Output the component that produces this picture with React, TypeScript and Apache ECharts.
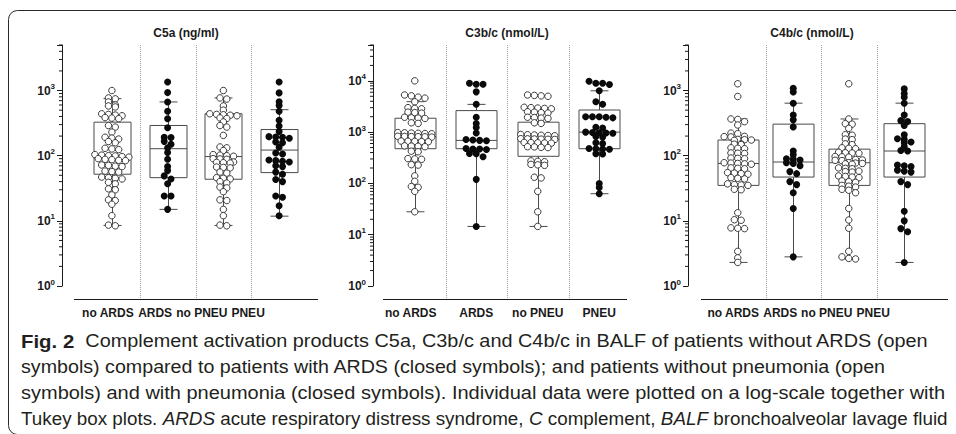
import { useEffect, useRef } from 'react';
import * as echarts from 'echarts';

// ---------------- data ----------------
const categories = ['no ARDS', 'ARDS', 'no PNEU', 'PNEU'];
const groupIsOpen = [true, false, true, false];
const panelTitles = ['C5a (ng/ml)', 'C3b/c (nmol/L)', 'C4b/c (nmol/L)'];
const yAxisMin = 1;
const yAxisMax = [5000, 50000, 5000];

// C5a (ng/ml)
const c5aNoArds = [1000, 770, 745, 668, 600, 580, 560, 440, 430, 420, 410, 385, 378, 370, 290, 275, 230, 192, 186, 180, 165, 158, 130, 127, 124, 104, 102, 100, 99, 97, 95, 90, 88, 87, 85, 84, 72, 71, 69, 68, 58, 57, 56, 47, 46, 45, 44, 39, 37, 31, 30, 25, 21, 20.5, 18, 12, 8.6, 8.4];
const c5aArds = [1350, 930, 668, 480, 370, 268, 192, 190, 166, 150, 132, 112, 88, 68, 59, 49, 44, 37, 24, 24, 15];
const c5aNoPneu = [1000, 770, 740, 580, 500, 440, 430, 425, 418, 410, 380, 372, 330, 290, 275, 205, 136, 132, 120, 104, 102, 100, 98, 90, 89, 88, 80, 79, 78, 77, 67, 66, 65, 56, 54, 46, 45, 44, 40, 38, 33, 32, 28, 21, 20.5, 15, 12, 8.6, 8.4];
const c5aPneu = [1350, 920, 670, 590, 480, 350, 285, 235, 196, 194, 192, 185, 162, 158, 135, 110, 106, 86, 84, 82, 80, 70, 68, 56, 52, 43, 40, 24, 23, 17, 12];
// [lower whisker, Q1, median, Q3, upper whisker]
const c5aBoxes = [
  [8.5, 52, 95, 327, 750],
  [15, 46, 128, 291, 668],
  [8.5, 43.5, 97, 441, 770],
  [11.8, 55, 122, 252, 508],
];

// C3b/c (nmol/L)
const c3NoArds = [10000, 5300, 5100, 4800, 4600, 3900, 3000, 2900, 2850, 2450, 2400, 2350, 1950, 1900, 1880, 1850, 1520, 1480, 980, 970, 960, 950, 940, 930, 830, 825, 820, 815, 810, 800, 670, 665, 660, 655, 650, 540, 535, 530, 520, 425, 415, 305, 300, 295, 232, 228, 140, 110, 87, 84, 70, 28];
const c3Ards = [9000, 8600, 8600, 6100, 3500, 1950, 1470, 1230, 960, 720, 700, 690, 680, 480, 470, 470, 460, 385, 380, 330, 120, 14.5];
const c3NoPneu = [5300, 5200, 5100, 5000, 3050, 3000, 2950, 2900, 2850, 2500, 2450, 2400, 2350, 1950, 1920, 1880, 1850, 1520, 1480, 900, 890, 880, 870, 860, 850, 745, 740, 735, 730, 725, 720, 630, 625, 620, 615, 610, 520, 515, 505, 500, 275, 270, 265, 235, 230, 225, 132, 128, 70, 28, 14.5];
const c3Pneu = [9800, 9000, 9000, 8500, 6400, 3900, 3500, 2000, 2000, 2000, 1950, 1900, 1250, 1200, 1000, 980, 970, 960, 950, 820, 800, 620, 600, 480, 475, 470, 465, 380, 375, 100, 83, 63];
const c3Boxes = [
  [28, 475, 820, 1866, 3925],
  [14.5, 475, 690, 2630, 3480],
  [14.5, 338, 732, 1563, 2917],
  [63, 475, 1000, 2700, 6400],
];

// C4b/c (nmol/L)
const c4NoArds = [1270, 810, 366, 360, 333, 296, 222, 218, 198, 196, 194, 178, 176, 174, 172, 152, 150, 148, 132, 130, 128, 110, 109, 108, 92, 91, 90, 78, 77, 76, 75, 74, 65, 64, 63, 55, 54, 53, 52, 46, 45, 44, 37, 36, 35.5, 35, 30.5, 30, 13.3, 10.4, 10.2, 7.8, 7.7, 7.6, 3.4, 2.7, 2.3];
const c4Ards = [1080, 950, 640, 420, 355, 275, 118, 103, 90, 88, 86, 78, 76, 70, 57, 53, 40, 36, 27, 15.5, 2.8];
const c4NoPneu = [1270, 366, 310, 305, 263, 210, 206, 180, 176, 152, 148, 132, 130, 128, 113, 111, 110, 109, 97, 96, 95, 87, 86, 85, 84, 78, 77, 76, 75, 74, 65, 64, 63, 58, 57, 56, 49, 48, 47, 46, 41, 40, 39, 35, 34, 33, 30.5, 29.5, 27, 15.5, 10.3, 7.7, 3.4, 2.8, 2.65, 2.6];
const c4Pneu = [1060, 900, 790, 640, 420, 345, 335, 290, 210, 182, 178, 162, 158, 137, 120, 118, 72, 70, 68, 60, 58, 56, 40, 36, 14, 10, 7.6, 6.8, 2.3];
const c4Boxes = [
  [2.3, 35, 76, 174, 366],
  [2.8, 47, 80, 305, 640],
  [2.6, 35, 78, 126, 366],
  [2.3, 47, 118, 310, 640],
];

const panelPoints = [
  [c5aNoArds, c5aArds, c5aNoPneu, c5aPneu],
  [c3NoArds, c3Ards, c3NoPneu, c3Pneu],
  [c4NoArds, c4Ards, c4NoPneu, c4Pneu],
];
const panelBoxes = [c5aBoxes, c3Boxes, c4Boxes];

const captionLines = [
  '{b|Fig. 2}{n|  Complement activation products C5a, C3b/c and C4b/c in BALF of patients without ARDS (open}',
  '{n|symbols) compared to patients with ARDS (closed symbols); and patients without pneumonia (open}',
  '{n|symbols) and with pneumonia (closed symbols). Individual data were plotted on a log-scale together with}',
  '{n|Tukey box plots. }{i|ARDS}{n| acute respiratory distress syndrome, }{i|C}{n| complement, }{i|BALF}{n| bronchoalveolar lavage fluid}',
];

// ---------------- layout / style ----------------
const W = 956;
const H = 434;
const GRID_TOP = 45;
const GRID_H = 241;
const X_AXIS_GAP = 13;
const MARK = 7;
const ROW_STEP = 6.8; // horizontal spacing of points within a row
const ROW_BIN = 3.5; // vertical extent (px) of one swarm row
const FONT = "'Liberation Sans', Arial, Helvetica, sans-serif";
const CAP_FONT = "'Liberation Sans', Arial, sans-serif";
const CAP_SIZE = 18.5;
const CAP_INK = '#231f20';
const INK = '#1a1a1a';
const BOX_INK = '#4a4a4a';

const layout = [
  { left: 84, width: 223, yOffset: 22, padL: 10, padR: 11, boxW: 37, titleX: 186, labelShift: [4, 12.5, 21.5, 31] },
  { left: 384, width: 246, yOffset: 11, padL: 1, padR: -3, boxW: 41, titleX: 507, labelShift: [4, 0, 0, 0] },
  { left: 710, width: 222, yOffset: 22, padL: 9, padR: 16, boxW: 41, titleX: 812, labelShift: [4.5, 13, 22, 31] },
];
const captionX = 21;
const captionY = [341, 367, 393, 419];
const captionRight = [928, 887, 946, 948];

// Prism-style swarm: points with (nearly) equal log value share a row, rows are centred
function swarm(values: number[], pxPerDecade: number) {
  const items = values.map((v) => ({ v, y: Math.log10(v) * pxPerDecade, dx: 0 }));
  const sorted = [...items].sort((a, b) => b.y - a.y);
  let row: typeof items = [];
  const flush = () => {
    const n = row.length;
    row.forEach((it, k) => {
      it.dx = (k - (n - 1) / 2) * ROW_STEP;
    });
    row = [];
  };
  for (const it of sorted) {
    if (row.length && row[0].y - it.y > ROW_BIN) flush();
    row.push(it);
  }
  flush();
  return items;
}

function minorTicks(max: number) {
  const out: number[][] = [];
  for (let e = 0; Math.pow(10, e) < max; e++) {
    for (let k = 2; k <= 9; k++) {
      const v = k * Math.pow(10, e);
      if (v <= max) out.push([0, v]);
    }
  }
  return out;
}

function yLabel(v: number) {
  const l = Math.log10(v);
  const e = Math.round(l);
  return Math.abs(l - e) < 1e-6 ? `{b|10}{s|${e}}` : '';
}

function measureRich(line: string) {
  const ctx = document.createElement('canvas').getContext('2d');
  if (!ctx) return 900;
  let w = 0;
  const re = /\{(\w)\|([^}]*)\}/g;
  let m: RegExpExecArray | null;
  while ((m = re.exec(line))) {
    const k = m[1];
    ctx.font = `${k === 'i' ? 'italic ' : ''}${k === 'b' ? 'bold ' : ''}${CAP_SIZE}px ${CAP_FONT}`;
    w += ctx.measureText(m[2]).width;
  }
  return w;
}

function buildOption() {
  const grid: any[] = [];
  const xAxis: any[] = [];
  const yAxis: any[] = [];
  const series: any[] = [];
  const graphic: any[] = [];

  graphic.push({
    type: 'rect',
    silent: true,
    z: -10,
    shape: { x: 8.5, y: 10.5, width: 990, height: 424, r: 9 },
    style: { fill: 'none', stroke: '#2a2a2a', lineWidth: 1 },
  });

  layout.forEach((L, p) => {
    const yMax = yAxisMax[p];
    const pxPerDecade = GRID_H / Math.log10(yMax / yAxisMin);
    grid.push({ left: L.left, top: GRID_TOP, width: L.width, height: GRID_H });
    xAxis.push({
      type: 'category',
      gridIndex: p,
      boundaryGap: true,
      offset: X_AXIS_GAP,
      data: categories,
      axisLine: { show: false },
      axisTick: { show: false },
      splitLine: { show: false },
      axisLabel: { show: false },
    });
    yAxis.push({
      type: 'log',
      logBase: 10,
      gridIndex: p,
      min: yAxisMin,
      max: yMax,
      offset: L.yOffset,
      axisLine: { show: true, lineStyle: { color: INK, width: 1 } },
      axisTick: { show: true, length: 5, lineStyle: { color: INK, width: 1 } },
      splitLine: { show: false },
      minorTick: { show: false },
      axisLabel: {
        margin: 7,
        formatter: yLabel,
        rich: {
          b: { fontSize: 12, fontWeight: 'bold', fontFamily: FONT, color: INK, lineHeight: 16 },
          s: { fontSize: 8, fontWeight: 'bold', fontFamily: FONT, color: INK, verticalAlign: 'top', lineHeight: 10 },
        },
      },
    });

    // minor ticks on the log axis
    series.push({
      type: 'custom',
      xAxisIndex: p,
      yAxisIndex: p,
      silent: true,
      encode: { x: 0, y: 1 },
      data: minorTicks(yMax),
      renderItem: (params: any, api: any) => {
        const y = api.coord([0, api.value(1)])[1];
        const ax = params.coordSys.x - L.yOffset;
        return {
          type: 'line',
          shape: { x1: ax - 3, y1: y, x2: ax, y2: y },
          style: { stroke: INK, lineWidth: 1 },
        };
      },
    });

    // dotted separators between groups
    series.push({
      type: 'custom',
      xAxisIndex: p,
      yAxisIndex: p,
      silent: true,
      encode: { x: 0, y: 1 },
      data: [[0, 1], [1, 1], [2, 1]],
      renderItem: (params: any, api: any) => {
        const c = api.coord([api.value(0), 1]);
        const bw = api.size([1, 0])[0];
        const x = Math.round(c[0] + bw / 2) + 0.5;
        const cs = params.coordSys;
        return {
          type: 'line',
          shape: { x1: x, y1: cs.y, x2: x, y2: cs.y + cs.height + X_AXIS_GAP },
          style: { stroke: '#9c9c9c', lineWidth: 1, lineDash: [1, 1] },
        };
      },
    });

    // x axis line (extends past the category bands)
    series.push({
      type: 'custom',
      xAxisIndex: p,
      yAxisIndex: p,
      silent: true,
      encode: { x: 0, y: 1 },
      data: [[0, 1]],
      renderItem: (params: any) => {
        const cs = params.coordSys;
        const y = cs.y + cs.height + X_AXIS_GAP + 0.5;
        return {
          type: 'line',
          shape: { x1: cs.x - L.padL, y1: y, x2: cs.x + cs.width + L.padR, y2: y },
          style: { stroke: INK, lineWidth: 1 },
        };
      },
    });

    // category labels (packed, as in the original figure)
    series.push({
      type: 'custom',
      xAxisIndex: p,
      yAxisIndex: p,
      silent: true,
      encode: { x: 0, y: 1 },
      data: categories.map((_, i) => [i, 1]),
      renderItem: (params: any, api: any) => {
        const i = api.value(0);
        const x = api.coord([i, 1])[0] - L.labelShift[i];
        const cs = params.coordSys;
        return {
          type: 'text',
          x,
          y: cs.y + cs.height + X_AXIS_GAP + 8,
          style: {
            text: categories[i],
            align: 'center',
            verticalAlign: 'top',
            fontFamily: FONT,
            fontSize: 12,
            fontWeight: 'bold',
            fill: INK,
          },
        };
      },
    });

    // Tukey boxes
    series.push({
      type: 'custom',
      xAxisIndex: p,
      yAxisIndex: p,
      z: 2,
      silent: true,
      encode: { x: 0, y: [1, 2, 3, 4, 5] },
      data: panelBoxes[p].map((b, i) => [i, ...b]),
      renderItem: (params: any, api: any) => {
        const cat = api.value(0);
        const x = Math.round(api.coord([cat, 1])[0]) + 0.5;
        const yy = [1, 2, 3, 4, 5].map((k) => api.coord([cat, api.value(k)])[1]);
        const [yLo, yQ1, yMed, yQ3, yHi] = yy;
        const h = L.boxW / 2;
        const cap = 9;
        const st = { stroke: BOX_INK, lineWidth: 1, fill: 'none' };
        return {
          type: 'group',
          children: [
            { type: 'rect', shape: { x: x - h, y: yQ3, width: L.boxW, height: yQ1 - yQ3 }, style: st },
            { type: 'line', shape: { x1: x - h, y1: yMed, x2: x + h, y2: yMed }, style: st },
            { type: 'line', shape: { x1: x, y1: yQ3, x2: x, y2: yHi }, style: st },
            { type: 'line', shape: { x1: x - cap, y1: yHi, x2: x + cap, y2: yHi }, style: st },
            { type: 'line', shape: { x1: x, y1: yQ1, x2: x, y2: yLo }, style: st },
            { type: 'line', shape: { x1: x - cap, y1: yLo, x2: x + cap, y2: yLo }, style: st },
          ],
        };
      },
    });

    // individual points
    panelPoints[p].forEach((vals, g) => {
      const open = groupIsOpen[g];
      series.push({
        type: 'scatter',
        xAxisIndex: p,
        yAxisIndex: p,
        z: 3,
        symbol: 'circle',
        symbolSize: open ? MARK - 0.5 : MARK,
        itemStyle: open
          ? { color: '#ffffff', borderColor: '#3a3a3a', borderWidth: 1, opacity: 1 }
          : { color: '#0a0a0a', opacity: 1 },
        data: swarm(vals, pxPerDecade).map((it) => ({
          value: [g, it.v],
          symbolOffset: [it.dx, 0],
        })),
      });
    });

    graphic.push({
      type: 'text',
      x: L.titleX,
      y: 33,
      style: {
        text: panelTitles[p],
        align: 'center',
        verticalAlign: 'middle',
        fontFamily: FONT,
        fontSize: 12,
        fontWeight: 'bold',
        fill: INK,
      },
    });
  });

  const capRich = {
    n: { fontFamily: CAP_FONT, fontSize: CAP_SIZE, color: CAP_INK },
    b: { fontFamily: CAP_FONT, fontSize: CAP_SIZE + 0.5, fontWeight: 'bold', color: CAP_INK },
    i: { fontFamily: CAP_FONT, fontSize: CAP_SIZE, fontStyle: 'italic', color: CAP_INK },
  };
  captionLines.forEach((line, i) => {
    const scale = (captionRight[i] - captionX) / measureRich(line);
    graphic.push({
      type: 'text',
      x: captionX,
      y: captionY[i],
      scaleX: scale,
      style: {
        text: line,
        rich: capRich,
        fontFamily: CAP_FONT,
        fontSize: CAP_SIZE,
        fill: CAP_INK,
        verticalAlign: 'middle',
        align: 'left',
      },
    });
  });

  return {
    animation: false,
    backgroundColor: '#ffffff',
    grid,
    xAxis,
    yAxis,
    series,
    graphic,
  };
}

export default function App() {
  const ref = useRef<HTMLDivElement>(null);
  useEffect(() => {
    if (!ref.current) return;
    const chart = echarts.init(ref.current, undefined, { renderer: 'svg' });
    chart.setOption(buildOption() as any);
    return () => chart.dispose();
  }, []);
  return (
    <div
      ref={ref}
      style={{ position: 'fixed', left: 0, top: 0, width: W, height: H, background: '#fff' }}
    />
  );
}
